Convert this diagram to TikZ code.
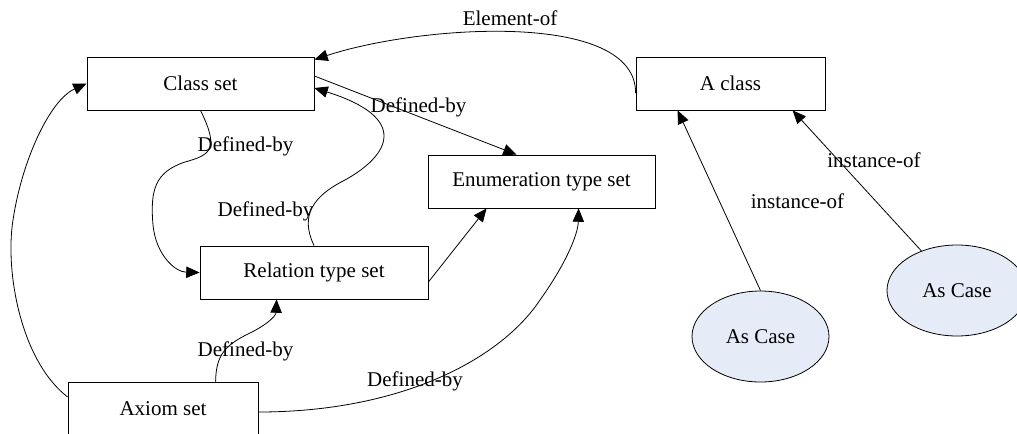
\documentclass[tikz,border=0pt]{standalone}
\usepackage{fontspec}
\setmainfont{Liberation Serif}
\usetikzlibrary{arrows.meta,shapes.geometric,calc}
\definecolor{casefill}{RGB}{230,236,247}
\begin{document}
\begin{tikzpicture}[x=0.75pt,y=-0.75pt,
  font=\fontsize{15.75pt}{18pt}\selectfont,
  every path/.style={line width=0.6pt},
  setbox/.style={draw, rectangle, inner sep=0pt, minimum height=39.75pt},
  casenode/.style={draw, ellipse, fill=casefill, inner sep=0pt, minimum height=68.25pt},
  rel/.style={draw, -{Triangle[length=10pt,width=8.5pt]}},
  lbl/.style={anchor=base, inner sep=0pt}]
\useasboundingbox (0,0) rectangle (1017,433);

% sets
\node[setbox, minimum width=170.25pt] (cls)  at (200.5,83.5)  {Class set};
\node[setbox, minimum width=170.25pt] (enum) at (541.5,181.5) {Enumeration type set};
\node[setbox, minimum width=171pt]    (rtp)  at (314,272.5)   {Relation type set};
\node[setbox, minimum width=142.5pt]  (ax)   at (163,408.5)   {Axiom set};
\node[setbox, minimum width=141.75pt] (acls) at (730.5,83.5)  {A class};

% instances
\node[casenode, minimum width=102.75pt] (e1) at (760.5,336.5) {As Case};
\node[casenode, minimum width=105pt]    (e2) at (957,290.5)   {As Case};

% A class is an element of the class set
\draw[rel] ($(acls.west)+(0,9.5)$) .. controls (636,10) and (420,25) .. ($(cls.north east)+(0,3)$);
\node[lbl] (l1) at (510,25) {Element-of};

% class set -> enumeration type set
\draw[rel] ($(cls.east)+(0,-7.5)$) -- ($(enum.north west)+(89,0)$);
\node[lbl] (l2) at (418.5,112) {Defined-by};

% relation type set -> class set
\draw[rel] (rtp.north) .. controls (303,222) and (305,200) .. (345,180)
  .. controls (390,155) and (410,118) .. ($(cls.east)+(0,4.5)$);
\node[lbl] (l3) at (265.5,216) {Defined-by};

% class set -> relation type set
\draw[rel] (cls.south) .. controls (220,150) and (210,155) .. (185,162)
  .. controls (155,172) and (150,190) .. (153,225)
  .. controls (156,255) and (175,272) .. (rtp.west);
\node[lbl] (l4) at (245.5,151) {Defined-by};

% relation type set -> enumeration type set
\draw[rel] ($(rtp.east)+(0,9.5)$) -- ($(enum.south west)+(59,0)$);

% axiom set -> relation type set
\draw[rel] ($(ax.north west)+(148,0)$) .. controls (216,355) and (225,345) .. (250,333)
  .. controls (270,323) and (276,315) .. ($(rtp.south west)+(77,0)$);
\node[lbl] (l5) at (245.5,356) {Defined-by};

% axiom set -> enumeration type set
\draw[rel] ($(ax.east)+(0,3.5)$) .. controls (400,412) and (500,360) .. (540,300)
  .. controls (565,265) and (578,235) .. ($(enum.south west)+(151,0)$);
\node[lbl] (l6) at (415,386) {Defined-by};

% axiom set -> class set
\draw[rel] ($(ax.west)+(0,-11.5)$) .. controls (20,360) and (5,270) .. (13,220)
  .. controls (22,160) and (50,100) .. (cls.west);

% instances of A class
\draw[rel] (e1.north) -- ($(acls.south west)+(42,0)$);
\node[lbl] (l7) at (797.5,208) {instance-of};
\draw[rel] (e2.132) -- ($(acls.south west)+(157,0)$);
\node[lbl] (l8) at (874,167) {instance-of};
\end{tikzpicture}
\end{document}
